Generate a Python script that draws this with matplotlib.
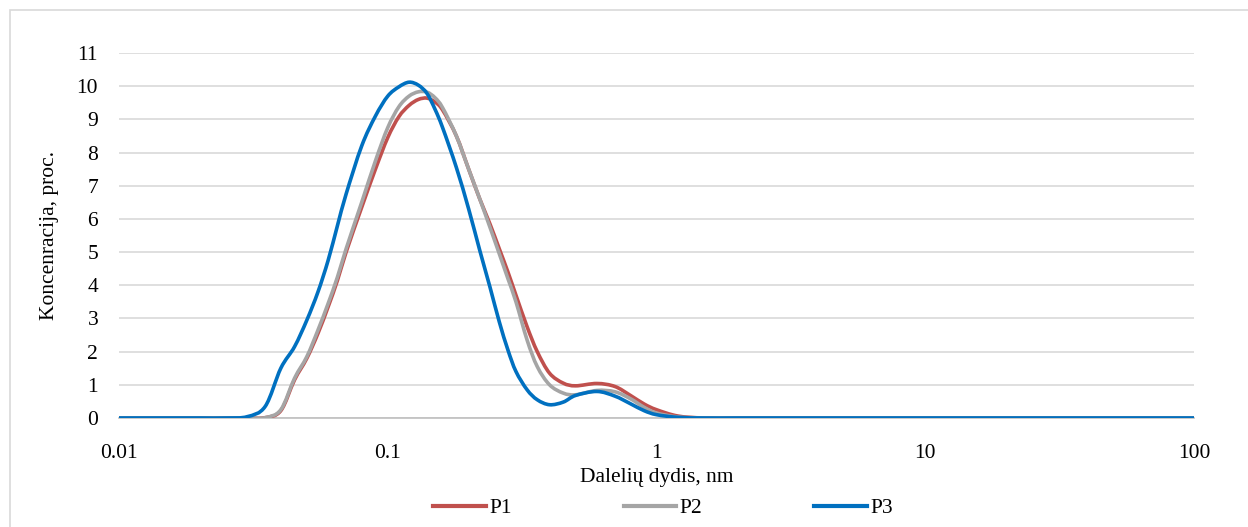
import numpy as np
import matplotlib
matplotlib.use("Agg")
import matplotlib.pyplot as plt
from matplotlib.path import Path
from matplotlib.patches import PathPatch, Rectangle
from matplotlib.lines import Line2D

plt.rcParams['font.family'] = ['Liberation Serif', 'DejaVu Serif']

# particle size, nm
sizes = [0.01, 0.015, 0.02, 0.025, 0.03, 0.035, 0.04, 0.045, 0.05, 0.055, 0.06, 0.065,
         0.07, 0.08, 0.09, 0.1, 0.11, 0.12, 0.13, 0.14, 0.15, 0.16, 0.18, 0.2, 0.22,
         0.24, 0.26, 0.28, 0.3, 0.33, 0.36, 0.4, 0.45, 0.5, 0.6, 0.7, 0.8, 0.9, 1.0,
         1.2, 1.5, 2, 3, 5, 10, 20, 50, 100]

p1 = [0, 0, 0, 0, 0, 0.01, 0.22, 1.15, 1.8, 2.55, 3.35, 4.15,
      5.0, 6.35, 7.5, 8.45, 9.08, 9.42, 9.6, 9.64, 9.52, 9.28, 8.5, 7.5, 6.6,
      5.85, 5.1, 4.4, 3.7, 2.75, 2.0, 1.35, 1.05, 0.97, 1.04, 0.95, 0.68, 0.42, 0.25,
      0.06, 0, 0, 0, 0, 0, 0, 0, 0]

p2 = [0, 0, 0, 0, 0, 0.01, 0.25, 1.2, 1.85, 2.65, 3.45, 4.25,
      5.1, 6.5, 7.75, 8.75, 9.38, 9.7, 9.83, 9.82, 9.65, 9.35, 8.5, 7.5, 6.6,
      5.75, 4.95, 4.2, 3.5, 2.35, 1.55, 1.0, 0.75, 0.7, 0.83, 0.79, 0.58, 0.32, 0.15,
      0.03, 0, 0, 0, 0, 0, 0, 0, 0]

p3 = [0, 0, 0, 0, 0.04, 0.35, 1.5, 2.15, 2.95, 3.8, 4.75, 5.8,
      6.75, 8.2, 9.1, 9.7, 9.98, 10.12, 10.03, 9.78, 9.3, 8.75, 7.55, 6.3, 5.05,
      3.95, 2.9, 2.05, 1.4, 0.85, 0.55, 0.4, 0.48, 0.68, 0.8, 0.66, 0.43, 0.22, 0.1,
      0.02, 0, 0, 0, 0, 0, 0, 0, 0]

series = [("P1", p1, "#C0504D"), ("P2", p2, "#A5A5A5"), ("P3", p3, "#0070C0")]

y_ticks = list(range(0, 12))
x_ticks = [0.01, 0.1, 1, 10, 100]
x_tick_labels = ["0.01", "0.1", "1", "10", "100"]


def smooth_path(xs, ys):
    """Excel-like smoothed line: Catmull-Rom Bezier built in log-x space."""
    lx = np.log10(np.asarray(xs, float))
    yv = np.asarray(ys, float)
    n = len(lx)
    verts = [(xs[0], yv[0])]
    codes = [Path.MOVETO]
    for i in range(n - 1):
        i0 = max(i - 1, 0)
        i3 = min(i + 2, n - 1)
        c1x = lx[i] + (lx[i + 1] - lx[i0]) / 6.0
        c1y = yv[i] + (yv[i + 1] - yv[i0]) / 6.0
        c2x = lx[i + 1] - (lx[i3] - lx[i]) / 6.0
        c2y = yv[i + 1] - (yv[i3] - yv[i]) / 6.0
        verts += [(10 ** c1x, c1y), (10 ** c2x, c2y), (10 ** lx[i + 1], yv[i + 1])]
        codes += [Path.CURVE4] * 3
    return Path(verts, codes)


fig = plt.figure(figsize=(12.48, 5.27), dpi=100)
fig.patches.append(Rectangle((10 / 1248, -0.05), 1.2, 1 - 10 / 527 + 0.05,
                             transform=fig.transFigure, fill=False,
                             edgecolor="#d9d9d9", lw=1.2, zorder=0))

ax = fig.add_axes([119 / 1248, 1 - 418 / 527, (1194 - 119) / 1248, (418 - 53) / 527])
ax.set_xscale("log")
ax.set_xlim(0.01, 100)
ax.set_ylim(0, 11)

for name, vals, col in series:
    patch = PathPatch(smooth_path(sizes, vals), facecolor="none", edgecolor=col,
                      lw=2.6, capstyle="round", joinstyle="round", zorder=3)
    ax.add_patch(patch)

ax.set_yticks(y_ticks)
ax.set_xticks(x_ticks)
ax.set_xticklabels(x_tick_labels)
ax.xaxis.set_minor_locator(matplotlib.ticker.NullLocator())
ax.grid(axis="y", color="#d9d9d9", lw=1.2)
ax.set_axisbelow(True)
for s in ["left", "right", "top"]:
    ax.spines[s].set_visible(False)
ax.spines["bottom"].set_color("#bfbfbf")
ax.spines["bottom"].set_linewidth(1.2)
ax.tick_params(axis="both", length=0, labelsize=15.5, colors="black")
ax.tick_params(axis="y", pad=15)
ax.tick_params(axis="x", pad=18.5)

ax.set_xlabel("Dalelių dydis, nm", fontsize=15.5, labelpad=4)
ax.set_ylabel("Koncenracija, proc.", fontsize=15.5, labelpad=12.5)

handles = [Line2D([], [], color=c, lw=3) for _, _, c in series]
fig.legend(handles, [n for n, _, _ in series], loc="center",
           bbox_to_anchor=(663 / 1248, 1 - 508 / 527), ncol=3, frameon=False,
           fontsize=15.5, handlelength=2.45, handletextpad=0.15, columnspacing=5.2,
           borderpad=0)

fig.savefig("out.png", dpi=100)
